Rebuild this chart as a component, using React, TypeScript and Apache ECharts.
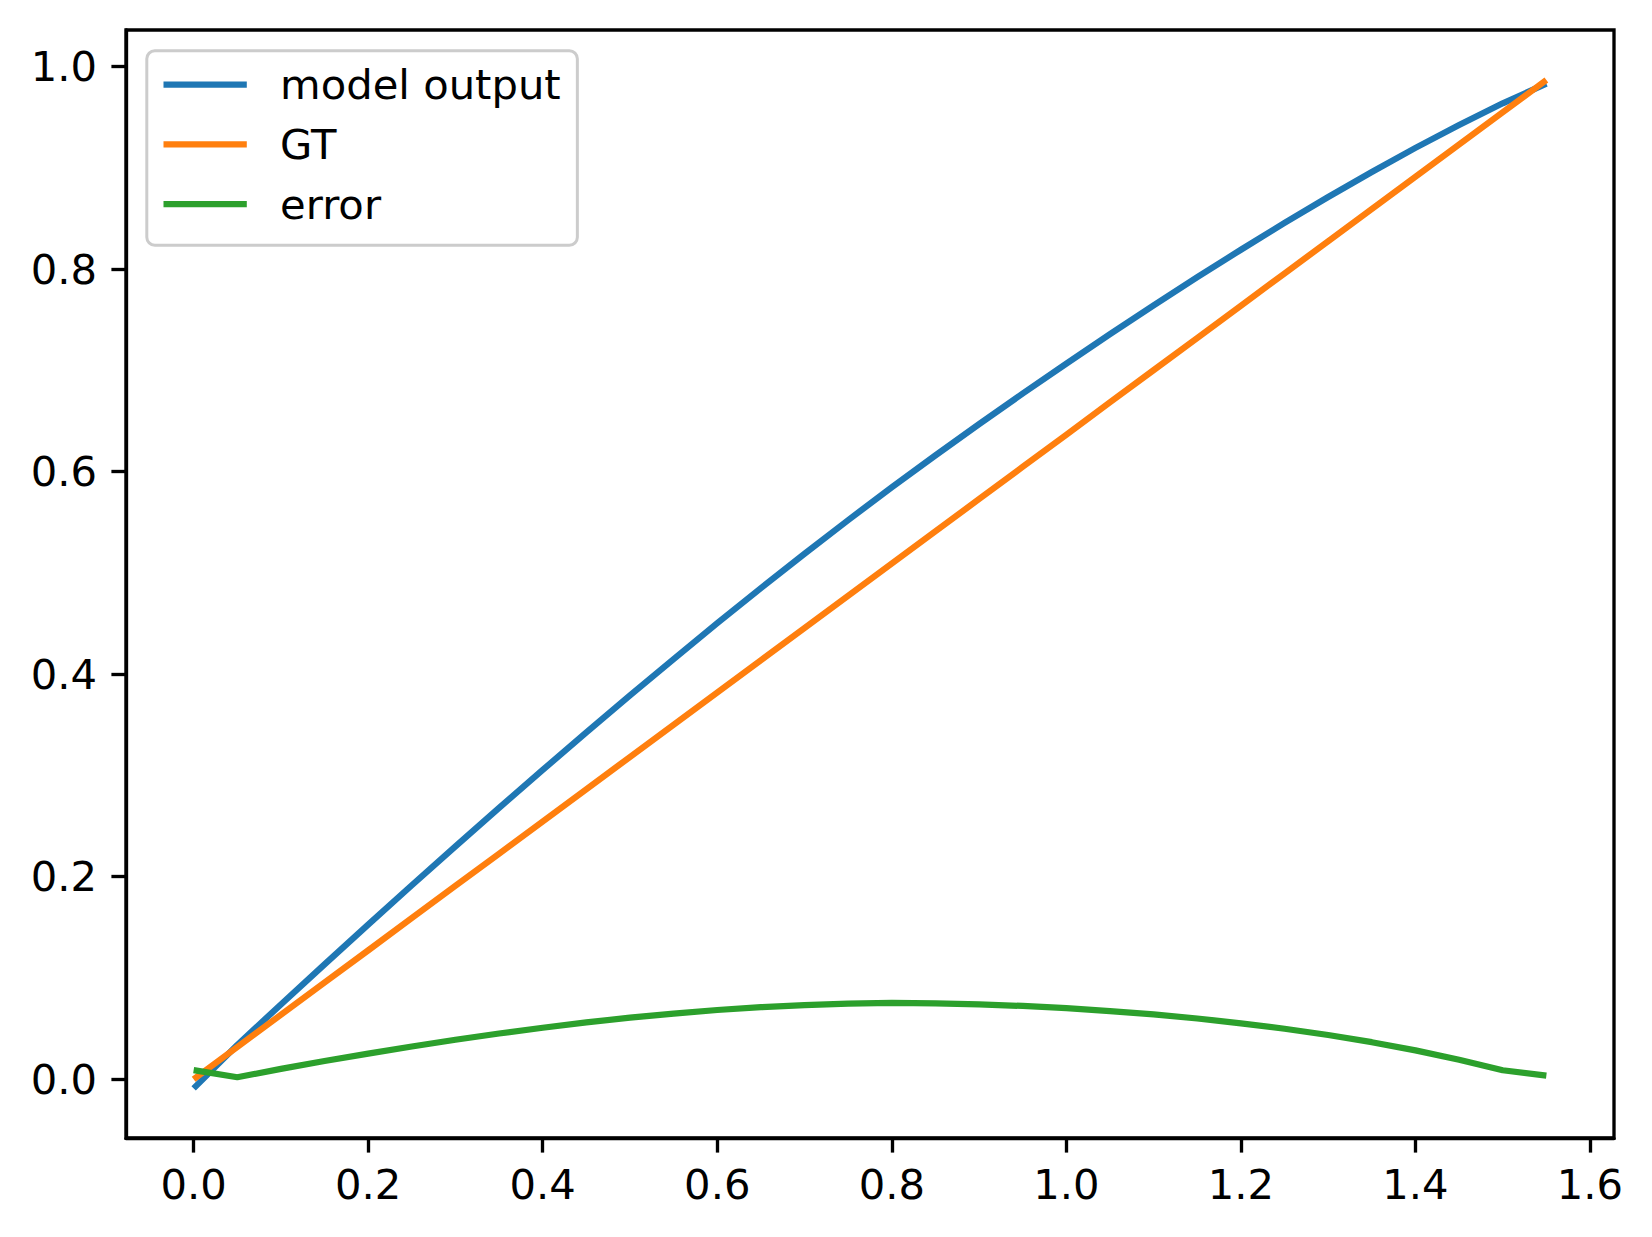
import React, { useEffect, useRef } from "react";
import * as echarts from "echarts";

const xValues = [
  0, 0.05, 0.1, 0.15, 0.2, 0.25, 0.3, 0.35, 0.4, 0.45, 0.5, 0.55, 0.6, 0.65, 0.7, 0.75,
  0.8, 0.85, 0.9, 0.95, 1.0, 1.05, 1.1, 1.15, 1.2, 1.25, 1.3, 1.35, 1.4, 1.45, 1.5, 1.55,
];

const modelOutput = [
  -0.009, 0.0338, 0.0739, 0.1135, 0.1527, 0.1916, 0.23, 0.268, 0.3055, 0.3426, 0.3791,
  0.415, 0.4504, 0.485, 0.5189, 0.5522, 0.5847, 0.6161, 0.647, 0.6772, 0.7068, 0.7359,
  0.7643, 0.7921, 0.8192, 0.8457, 0.8713, 0.896, 0.9198, 0.9424, 0.9638, 0.9832,
];

const groundTruth = [
  0, 0.0318, 0.0637, 0.0955, 0.1273, 0.1592, 0.191, 0.2228, 0.2546, 0.2865, 0.3183,
  0.3501, 0.382, 0.4138, 0.4456, 0.4775, 0.5093, 0.5411, 0.573, 0.6048, 0.6366, 0.6685,
  0.7003, 0.7321, 0.7639, 0.7958, 0.8276, 0.8594, 0.8913, 0.9231, 0.9549, 0.9868,
];

const errorValues = [
  0.009, 0.002, 0.0102, 0.018, 0.0254, 0.0324, 0.039, 0.0452, 0.0509, 0.0561, 0.0608,
  0.0649, 0.0684, 0.0712, 0.0733, 0.0747, 0.0754, 0.075, 0.074, 0.0724, 0.0702, 0.0674,
  0.064, 0.06, 0.0553, 0.0499, 0.0437, 0.0366, 0.0285, 0.0193, 0.0089, 0.0036,
];

const seriesNames = ["model output", "GT", "error"];
const seriesColors = ["#1f77b4", "#ff7f0e", "#2ca02c"];
const xTicks = [0, 0.2, 0.4, 0.6, 0.8, 1.0, 1.2, 1.4, 1.6];
const yTicks = [0, 0.2, 0.4, 0.6, 0.8, 1.0];

const FONT = "DejaVu Sans";
const FS = 41.7;

export default function App() {
  const ref = useRef<HTMLDivElement>(null);

  useEffect(() => {
    if (!ref.current) return;
    const chart = echarts.init(ref.current, null, { renderer: "svg" });
    const allSeries = [modelOutput, groundTruth, errorValues];
    const axisCommon = {
      type: "value" as const,
      splitLine: { show: false },
      axisLine: { show: true, onZero: false, lineStyle: { color: "#000", width: 3.33 } },
      axisTick: {
        show: true,
        inside: false,
        length: 14.6,
        lineStyle: { color: "#000", width: 3.33 },
      },
      axisLabel: {
        show: true,
        color: "#000",
        fontFamily: FONT,
        fontSize: FS,
        formatter: (v: number) => v.toFixed(1),
      },
    };
    chart.setOption({
      animation: false,
      backgroundColor: "#fff",
      grid: {
        left: 126,
        top: 30,
        width: 1488,
        height: 1108,
        show: true,
        borderColor: "#000",
        borderWidth: 3.33,
        backgroundColor: "transparent",
        containLabel: false,
      },
      xAxis: {
        ...axisCommon,
        min: -0.0775,
        max: 1.6275,
        axisTick: { ...axisCommon.axisTick, customValues: xTicks },
        axisLabel: { ...axisCommon.axisLabel, margin: 25, customValues: xTicks },
      },
      yAxis: {
        ...axisCommon,
        min: -0.058,
        max: 1.0362,
        axisTick: { ...axisCommon.axisTick, customValues: yTicks },
        axisLabel: { ...axisCommon.axisLabel, margin: 29, customValues: yTicks },
      },
      legend: {
        show: true,
        orient: "vertical",
        left: 146.8,
        top: 50.8,
        padding: [12.8, 16.7, 20, 16.7],
        itemGap: 17.8,
        itemWidth: 83.3,
        itemHeight: 38,
        icon: "path://M0,0H83.3V6.25H0Z",
        itemStyle: { borderWidth: 0 },
        lineStyle: { width: 0 },
        backgroundColor: "rgba(255,255,255,0.8)",
        borderColor: "#cccccc",
        borderWidth: 3,
        borderRadius: 8,
        data: seriesNames,
        textStyle: {
          color: "#000",
          fontFamily: FONT,
          fontSize: FS,
          lineHeight: 38,
          padding: [0, 0, 0, 28.3],
        },
      },
      series: allSeries.map((vals, i) => ({
        name: seriesNames[i],
        type: "line",
        data: xValues.map((x, j) => [x, vals[j]]),
        symbol: "none",
        showSymbol: false,
        smooth: false,
        color: seriesColors[i],
        lineStyle: { color: seriesColors[i], width: 6.25, cap: "butt", join: "round" },
        itemStyle: { color: seriesColors[i] },
        z: 2 + i,
      })),
    });
    return () => chart.dispose();
  }, []);

  return (
    <div
      ref={ref}
      style={{ position: "absolute", left: 0, top: 0, width: 1652, height: 1237 }}
    />
  );
}
